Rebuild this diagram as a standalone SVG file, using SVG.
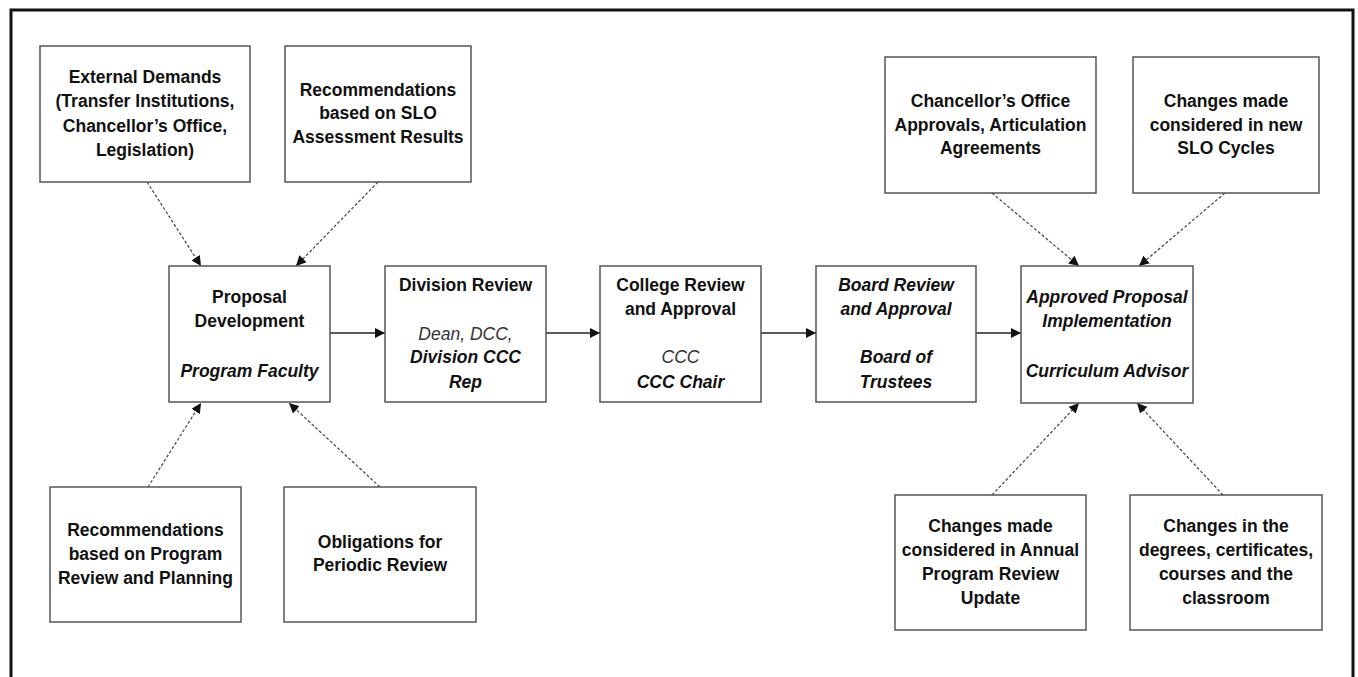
<svg xmlns="http://www.w3.org/2000/svg" width="1358" height="677" viewBox="0 0 1358 677">
<style>
.box{fill:#fff;stroke:#555;stroke-width:1.5}
.t{font-family:"Liberation Sans",Arial,sans-serif;font-size:17.5px;font-weight:bold;fill:#111;text-anchor:middle}
.i{font-style:italic}
.n{font-weight:normal;fill:#333}
.solid{stroke:#222;stroke-width:1.3;fill:none;marker-end:url(#ah)}
.dash{stroke:#444;stroke-width:1.2;fill:none;stroke-dasharray:3 2;marker-end:url(#ah)}
</style>
<defs>
<marker id="ah" viewBox="0 0 10 10" refX="10" refY="5" markerWidth="10" markerHeight="10" markerUnits="userSpaceOnUse" orient="auto">
<path d="M0,0 L10,5 L0,10 z" fill="#111"/>
</marker>
</defs>
<rect x="0" y="0" width="1358" height="677" fill="#fff"/>
<rect x="11" y="10" width="1342" height="680" fill="none" stroke="#111" stroke-width="3"/>

<g id="connectors">
<line class="solid" x1="330" y1="333" x2="385" y2="333"/>
<line class="solid" x1="546" y1="333" x2="600" y2="333"/>
<line class="solid" x1="761" y1="333" x2="816" y2="333"/>
<line class="solid" x1="976" y1="333" x2="1021" y2="333"/>
<line class="dash" x1="147" y1="182" x2="201" y2="266"/>
<line class="dash" x1="378" y1="182" x2="296" y2="266"/>
<line class="dash" x1="148" y1="487" x2="201" y2="403"/>
<line class="dash" x1="380" y1="487" x2="289" y2="403"/>
<line class="dash" x1="992" y1="193" x2="1079" y2="266"/>
<line class="dash" x1="1225" y1="193" x2="1139" y2="266"/>
<line class="dash" x1="992" y1="495" x2="1079" y2="403"/>
<line class="dash" x1="1223" y1="495" x2="1137" y2="403"/>
</g>

<g id="external-demands">
<rect class="box" x="40" y="46" width="210" height="136"/>
<text class="t" x="145" y="83">External Demands</text>
<text class="t" x="145" y="107">(Transfer Institutions,</text>
<text class="t" x="145" y="132">Chancellor’s Office,</text>
<text class="t" x="145" y="156">Legislation)</text>
</g>

<g id="recs-slo">
<rect class="box" x="285" y="46" width="186" height="136"/>
<text class="t" x="378" y="96">Recommendations</text>
<text class="t" x="378" y="119">based on SLO</text>
<text class="t" x="378" y="143">Assessment Results</text>
</g>

<g id="proposal-development">
<rect class="box" x="169" y="266" width="161" height="136"/>
<text class="t" x="249.5" y="303">Proposal</text>
<text class="t" x="249.5" y="327">Development</text>
<text class="t i" x="249.5" y="377">Program Faculty</text>
</g>

<g id="division-review">
<rect class="box" x="385" y="266" width="161" height="136"/>
<text class="t" x="465.5" y="291">Division Review</text>
<text class="t i n" x="465.5" y="340">Dean, DCC,</text>
<text class="t i" x="465.5" y="363">Division CCC</text>
<text class="t i" x="465.5" y="388">Rep</text>
</g>

<g id="college-review">
<rect class="box" x="600" y="266" width="161" height="136"/>
<text class="t" x="680.5" y="291">College Review</text>
<text class="t" x="680.5" y="315">and Approval</text>
<text class="t i n" x="680.5" y="363">CCC</text>
<text class="t i" x="680.5" y="388">CCC Chair</text>
</g>

<g id="board-review">
<rect class="box" x="816" y="266" width="160" height="136"/>
<text class="t i" x="896" y="291">Board Review</text>
<text class="t i" x="896" y="315">and Approval</text>
<text class="t i" x="896" y="363">Board of</text>
<text class="t i" x="896" y="388">Trustees</text>
</g>

<g id="approved-proposal">
<rect class="box" x="1021" y="266" width="172" height="137"/>
<text class="t i" x="1107" y="303">Approved Proposal</text>
<text class="t i" x="1107" y="327">Implementation</text>
<text class="t i" x="1107" y="377">Curriculum Advisor</text>
</g>

<g id="chancellor-office">
<rect class="box" x="885" y="57" width="211" height="136"/>
<text class="t" x="990.5" y="107">Chancellor’s Office</text>
<text class="t" x="990.5" y="131">Approvals, Articulation</text>
<text class="t" x="990.5" y="154">Agreements</text>
</g>

<g id="changes-slo">
<rect class="box" x="1133" y="57" width="186" height="136"/>
<text class="t" x="1226" y="107">Changes made</text>
<text class="t" x="1226" y="131">considered in new</text>
<text class="t" x="1226" y="154">SLO Cycles</text>
</g>

<g id="recs-program">
<rect class="box" x="50" y="487" width="191" height="135"/>
<text class="t" x="145.5" y="536">Recommendations</text>
<text class="t" x="145.5" y="560">based on Program</text>
<text class="t" x="145.5" y="584">Review and Planning</text>
</g>

<g id="obligations">
<rect class="box" x="284" y="487" width="192" height="135"/>
<text class="t" x="380" y="548">Obligations for</text>
<text class="t" x="380" y="571">Periodic Review</text>
</g>

<g id="changes-annual">
<rect class="box" x="895" y="495" width="191" height="135"/>
<text class="t" x="990.5" y="532">Changes made</text>
<text class="t" x="990.5" y="556">considered in Annual</text>
<text class="t" x="990.5" y="580">Program Review</text>
<text class="t" x="990.5" y="604">Update</text>
</g>

<g id="changes-degrees">
<rect class="box" x="1130" y="495" width="192" height="135"/>
<text class="t" x="1226" y="532">Changes in the</text>
<text class="t" x="1226" y="556">degrees, certificates,</text>
<text class="t" x="1226" y="580">courses and the</text>
<text class="t" x="1226" y="604">classroom</text>
</g>
</svg>
